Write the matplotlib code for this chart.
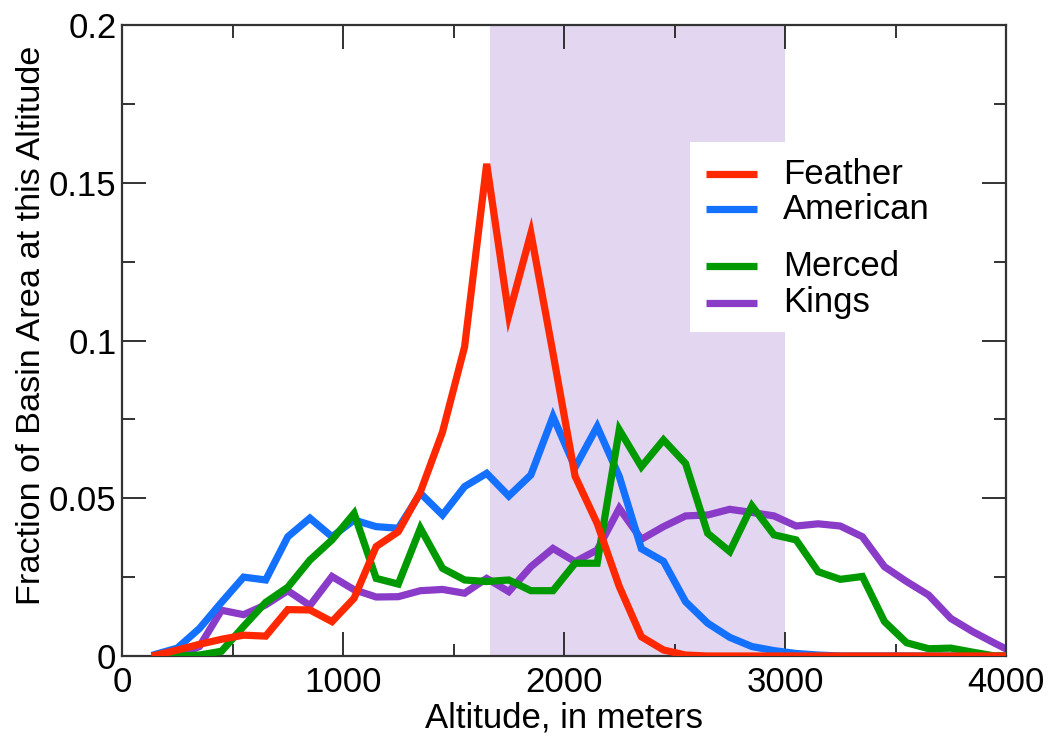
import numpy as np
import matplotlib
matplotlib.use("Agg")
import matplotlib.pyplot as plt
from matplotlib.patches import Rectangle

plt.rcParams['font.family'] = ['Liberation Sans', 'DejaVu Sans']

# altitude bin centres, 100 m bins
altitude = np.arange(150, 4100, 100)

feather = [0.0002, 0.0019, 0.0037, 0.0053, 0.0066, 0.0063, 0.0147, 0.0146, 0.0109, 0.0183,
           0.0347, 0.0394, 0.0520, 0.0710, 0.0980, 0.1560, 0.1080, 0.1340, 0.0960, 0.0570,
           0.0420, 0.0220, 0.0061, 0.0019, 0.0003, 0.0, 0.0, 0.0, 0.0, 0.0,
           0.0, 0.0, 0.0, 0.0, 0.0, 0.0, 0.0, 0.0, 0.0, 0.0]
american = [0.0005, 0.0025, 0.0087, 0.0170, 0.0250, 0.0241, 0.0378, 0.0437, 0.0378, 0.0431,
            0.0410, 0.0405, 0.0516, 0.0447, 0.0537, 0.0579, 0.0507, 0.0574, 0.0759, 0.0598,
            0.0727, 0.0569, 0.0340, 0.0300, 0.0172, 0.0104, 0.0059, 0.0030, 0.0017, 0.0008,
            0.0003, 0.0, 0.0, 0.0, 0.0, 0.0, 0.0, 0.0, 0.0, 0.0]
merced = [0.0, 0.0, 0.0003, 0.0015, 0.0094, 0.0170, 0.0218, 0.0304, 0.0368, 0.0452,
          0.0246, 0.0228, 0.0405, 0.0278, 0.0241, 0.0236, 0.0241, 0.0207, 0.0207, 0.0294,
          0.0294, 0.0717, 0.0600, 0.0685, 0.0610, 0.0389, 0.0331, 0.0476, 0.0384, 0.0368,
          0.0267, 0.0243, 0.0252, 0.0109, 0.0042, 0.0023, 0.0025, 0.0012, 0.0, 0.0]
kings = [0.0, 0.0, 0.0030, 0.0145, 0.0131, 0.0162, 0.0207, 0.0160, 0.0252, 0.0210,
         0.0187, 0.0188, 0.0207, 0.0211, 0.0199, 0.0246, 0.0204, 0.0283, 0.0341, 0.0299,
         0.0336, 0.0468, 0.0370, 0.0410, 0.0444, 0.0447, 0.0465, 0.0455, 0.0444, 0.0412,
         0.0419, 0.0412, 0.0378, 0.0283, 0.0236, 0.0193, 0.0119, 0.0077, 0.0040, 0.0005]

# snow-zone band
band = (1665, 3000)

names = ['Feather', 'American', 'Merced', 'Kings']
colors = ['#ff2800', '#1470ff', '#009a00', '#8a3cc8']

fig = plt.figure(figsize=(10.53, 7.36), dpi=100)
ax = fig.add_axes([0.1159, 0.1087, 0.8395, 0.8573])

ax.axvspan(band[0], band[1], color='#e3d6f1', lw=0, zorder=0)

series = [feather, american, merced, kings]
zorders = [5, 3, 4, 2]
for vals, c, z in zip(series, colors, zorders):
    ax.plot(altitude, vals, color=c, lw=5.2, zorder=z, solid_joinstyle='miter')

ax.set_xlim(0, 4000)
ax.set_ylim(0, 0.2)
ax.set_xticks([0, 1000, 2000, 3000, 4000])
ax.set_xticks(np.arange(500, 4000, 1000), minor=True)
ax.set_yticks([0, 0.05, 0.1, 0.15, 0.2])
ax.set_yticklabels(['0', '0.05', '0.1', '0.15', '0.2'])
ax.set_yticks([0.025, 0.075, 0.125, 0.175], minor=True)
ax.tick_params(which='both', direction='in', top=True, right=True,
               labelsize=25, width=1.3, color='#222222')
ax.tick_params(which='major', length=17)
ax.tick_params(axis='y', which='major', pad=4)
ax.tick_params(axis='x', which='major', pad=7)
ax.tick_params(which='minor', length=9)
for s in ax.spines.values():
    s.set_linewidth(1.6)
    s.set_color('#333333')

ax.set_xlabel('Altitude, in meters', fontsize=25, labelpad=2)
ax.set_ylabel('Fraction of Basin Area at this Altitude', fontsize=24.7)
ax.yaxis.set_label_coords(-0.085, 0.5246)

# legend box, with a gap between the northern and southern basins
ax.add_patch(Rectangle((0.643, 0.514), 0.29, 0.301, transform=ax.transAxes,
                       facecolor='white', edgecolor='none', zorder=6))
rows = [0.7634, 0.708, 0.618, 0.560]
for name, c, y in zip(names, colors, rows):
    ax.plot([0.661, 0.718], [y, y], transform=ax.transAxes, color=c, lw=5.2, zorder=7,
            solid_capstyle='butt')
    ax.text(0.748, y, name, transform=ax.transAxes, fontsize=25, va='center',
            ha='left', zorder=7)

fig.savefig('out.png', dpi=100)
